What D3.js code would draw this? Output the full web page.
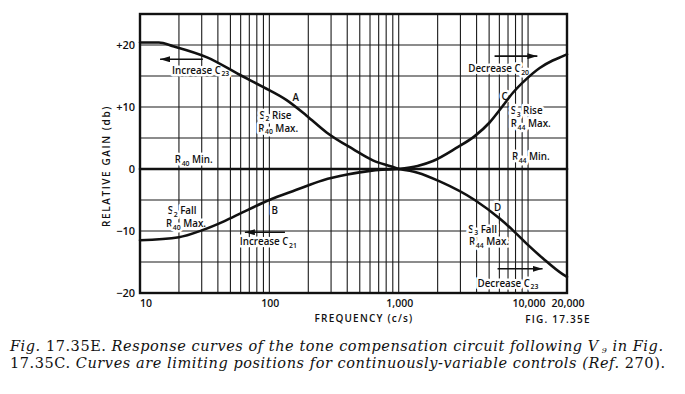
<!DOCTYPE html>
<html>
<head>
<meta charset="utf-8">
<script src="https://cdn.jsdelivr.net/npm/d3@7"></script>
<style>
  body { margin: 0; background: #fff; }
  svg { display: block; }
  .lbl { font-family: "Open Sans", "DejaVu Sans", sans-serif; font-weight: 600; fill: #111; }
  .halo { paint-order: stroke; stroke: #fff; stroke-width: 5px; stroke-linejoin: round; }
  .cap { font-family: "DejaVu Serif", "Liberation Serif", serif; fill: #111; }
</style>
</head>
<body>
<div id="chart"></div>
<script>
// response curves (freq in c/s, gain in db)
var freqA = [10, 14, 18, 33, 59, 90, 136, 194, 277, 444, 631, 880, 1000];
var gainA = [20.4, 20.4, 19.8, 18.0, 15.2, 13.2, 11.1, 8.6, 5.9, 3.2, 1.4, 0.4, 0];

var freqB = [10, 20, 30, 45, 62, 100, 160, 260, 400, 600, 1000];
var gainB = [-11.5, -11.0, -9.9, -8.4, -7.0, -5.0, -3.4, -1.8, -0.9, -0.3, 0];

var freqC = [1000, 1400, 1840, 2790, 3870, 5040, 6390, 7640, 9690, 12300, 15500, 18600, 20000];
var gainC = [0, 0.5, 1.3, 3.4, 5.3, 7.5, 10.2, 12.3, 14.5, 16.3, 17.5, 18.2, 18.5];

var freqD = [1000, 1400, 2075, 3870, 6030, 7640, 9690, 13000, 18600, 20000];
var gainD = [0, -0.6, -2.0, -5.0, -8.0, -9.9, -12.0, -14.4, -17.0, -17.4];

var freqFlat = [10, 20000];
var gainFlat = [0, 0];

var yTicks = [20, 10, 0, -10, -20];
var yTickLabels = ['+20', '+10', '0', '\u221210', '\u221220'];
var xTicks = [10, 100, 1000, 10000, 20000];
var xTickLabels = ['10', '100', '1,000', '10,000', '20,000'];

// annotations placed in data space: [text, freq, gain, anchor]
var notes = [
  ['Increase C_23', 17.7, 15.4, 'start'],
  ['A', 160, 10.9, 'middle'],
  ['S_2 Rise', 84, 8.1, 'start'],
  ['R_40 Max.', 82, 6.0, 'start'],
  ['R_40 Min.', 18.6, 0.9, 'start'],
  ['Decrease C_20', 3450, 15.6, 'start'],
  ['C', 6580, 11.1, 'middle'],
  ['S_3 Rise', 7350, 8.8, 'start'],
  ['R_44 Max.', 7350, 6.7, 'start'],
  ['R_44 Min.', 7500, 1.4, 'start'],
  ['S_2 Fall', 16.4, -7.3, 'start'],
  ['R_40 Max.', 15.9, -9.4, 'start'],
  ['B', 110, -7.2, 'middle'],
  ['Increase C_21', 59, -12.3, 'start'],
  ['D', 5810, -6.8, 'middle'],
  ['S_3 Fall', 3450, -10.3, 'start'],
  ['R_44 Max.', 3500, -12.3, 'start'],
  ['Decrease C_23', 4070, -19.0, 'start']
];
// arrows: [fromFreq, toFreq, gain]
var arrows = [
  [30.6, 14.3, 17.7],
  [5510, 11800, 18.2],
  [132, 64.7, -10.2],
  [5810, 12950, -16.1]
];

var W = 685, H = 394;
var svg = d3.select('#chart').append('svg')
  .attr('width', W)
  .attr('height', H);

var x = d3.scaleLog().domain([10, 20000]).range([140, 567]);
var y = d3.scaleLinear().domain([-20, 25]).range([293, 14]);

// grid: every integer multiple inside each decade
var gridF = [];
[10, 100, 1000].forEach(function (dec) {
  for (var k = 1; k < 10; k++) { gridF.push(dec * k); }
});
gridF.push(10000, 20000);
var gridG = d3.range(-20, 26, 5);

var grid = svg.append('g');
grid.selectAll('line.v').data(gridF)
  .enter().append('line')
    .attr('class', 'v')
    .attr('x1', function (d) { return x(d); })
    .attr('x2', function (d) { return x(d); })
    .attr('y1', y(25))
    .attr('y2', y(-20))
    .attr('stroke', '#1a1a1a')
    .attr('stroke-width', 1.1);
grid.selectAll('line.h').data(gridG)
  .enter().append('line')
    .attr('class', 'h')
    .attr('x1', x(10))
    .attr('x2', x(20000))
    .attr('y1', function (d) { return y(d); })
    .attr('y2', function (d) { return y(d); })
    .attr('stroke', '#1a1a1a')
    .attr('stroke-width', 1.1);

// text with "_" marking a subscript
function addText(sel, str, size) {
  var parts = str.split('_');
  sel.append('tspan').text(parts[0]);
  if (parts.length > 1) {
    var m = parts[1].match(/^(\d+)(.*)$/);
    sel.append('tspan')
      .attr('dy', 2.5)
      .attr('dx', 0.5)
      .attr('font-size', size * 0.7)
      .text(m[1]);
    if (m[2]) {
      sel.append('tspan').attr('dy', -2.5).text(m[2]);
    }
  }
}

var ann = svg.append('g');
notes.forEach(function (n) {
  var t = ann.append('text')
    .attr('class', 'lbl halo')
    .attr('x', x(n[1]))
    .attr('y', y(n[2]))
    .attr('text-anchor', n[3])
    .attr('font-size', 9.8);
  addText(t, n[0], 9.8);
});

svg.append('defs').append('marker')
  .attr('id', 'head')
  .attr('viewBox', '0 0 10 6')
  .attr('refX', 10)
  .attr('refY', 3)
  .attr('markerWidth', 10)
  .attr('markerHeight', 6)
  .attr('markerUnits', 'userSpaceOnUse')
  .attr('orient', 'auto')
  .append('path')
    .attr('d', 'M0,0 L10,3 L0,6 Z')
    .attr('fill', '#111');

ann.selectAll('line.arrow').data(arrows)
  .enter().append('line')
    .attr('class', 'arrow')
    .attr('x1', function (d) { return x(d[0]); })
    .attr('x2', function (d) { return x(d[1]); })
    .attr('y1', function (d) { return y(d[2]); })
    .attr('y2', function (d) { return y(d[2]); })
    .attr('stroke', '#111')
    .attr('stroke-width', 1.6)
    .attr('marker-end', 'url(#head)');

// curves
var line = d3.line()
  .x(function (d) { return x(d[0]); })
  .y(function (d) { return y(d[1]); })
  .curve(d3.curveMonotoneX);

var curves = [
  [freqFlat, gainFlat],
  [freqA, gainA],
  [freqB, gainB],
  [freqC, gainC],
  [freqD, gainD]
];
svg.append('g').selectAll('path').data(curves)
  .enter().append('path')
    .attr('d', function (c) { return line(d3.zip(c[0], c[1])); })
    .attr('fill', 'none')
    .attr('stroke', '#111')
    .attr('stroke-width', 2.6)
    .attr('stroke-linecap', 'round');

// frame
svg.append('rect')
  .attr('x', x(10))
  .attr('y', y(25))
  .attr('width', x(20000) - x(10))
  .attr('height', y(-20) - y(25))
  .attr('fill', 'none')
  .attr('stroke', '#111')
  .attr('stroke-width', 2.4);

// tick labels
svg.append('g').selectAll('text').data(yTicks)
  .enter().append('text')
    .attr('class', 'lbl')
    .attr('x', 135)
    .attr('y', function (d) { return y(d) + 4; })
    .attr('text-anchor', 'end')
    .attr('font-size', 11)
    .text(function (d, i) { return yTickLabels[i]; });

svg.append('g').selectAll('text').data(xTicks)
  .enter().append('text')
    .attr('class', 'lbl')
    .attr('x', function (d, i) { return i === 0 ? x(d) + 6 : x(d) + 1; })
    .attr('y', 307)
    .attr('text-anchor', 'middle')
    .attr('font-size', 10.5)
    .attr('font-weight', 500)
    .text(function (d, i) { return xTickLabels[i]; });

svg.append('text')
  .attr('class', 'lbl')
  .attr('transform', 'translate(110,166) rotate(-90)')
  .attr('text-anchor', 'middle')
  .attr('font-size', 10)
  .attr('letter-spacing', 1.6)
  .text('RELATIVE  GAIN  (db)');

svg.append('text')
  .attr('class', 'lbl')
  .attr('x', 364)
  .attr('y', 322)
  .attr('text-anchor', 'middle')
  .attr('font-size', 10)
  .attr('letter-spacing', 1.2)
  .attr('font-weight', 500)
  .text('FREQUENCY  (c/s)');

svg.append('text')
  .attr('class', 'lbl')
  .attr('x', 558)
  .attr('y', 323)
  .attr('text-anchor', 'middle')
  .attr('font-size', 10)
  .attr('letter-spacing', 1.2)
  .attr('font-weight', 500)
  .text('FIG. 17.35E');

// caption
var cap1 = svg.append('text')
  .attr('class', 'cap')
  .attr('x', 10)
  .attr('y', 351)
  .attr('font-size', 14.5)
  .attr('textLength', 653)
  .attr('lengthAdjust', 'spacing');
cap1.append('tspan').attr('font-style', 'italic').text('Fig. ');
cap1.append('tspan').text('17.35E.');
cap1.append('tspan').attr('font-style', 'italic')
  .text('  Response curves of the tone compensation circuit following V');
cap1.append('tspan').attr('font-style', 'italic').attr('font-size', 8)
  .attr('dx', 3).attr('dy', 2).text('9');
cap1.append('tspan').attr('font-style', 'italic').attr('dy', -2).text(' in Fig.');

var cap2 = svg.append('text')
  .attr('class', 'cap')
  .attr('x', 10)
  .attr('y', 368)
  .attr('font-size', 14.5)
  .attr('textLength', 655)
  .attr('lengthAdjust', 'spacing');
cap2.append('tspan').text('17.35C.');
cap2.append('tspan').attr('font-style', 'italic')
  .text('  Curves are limiting positions for continuously-variable controls (Ref.');
cap2.append('tspan').text(' 270).');
</script>
</body>
</html>
